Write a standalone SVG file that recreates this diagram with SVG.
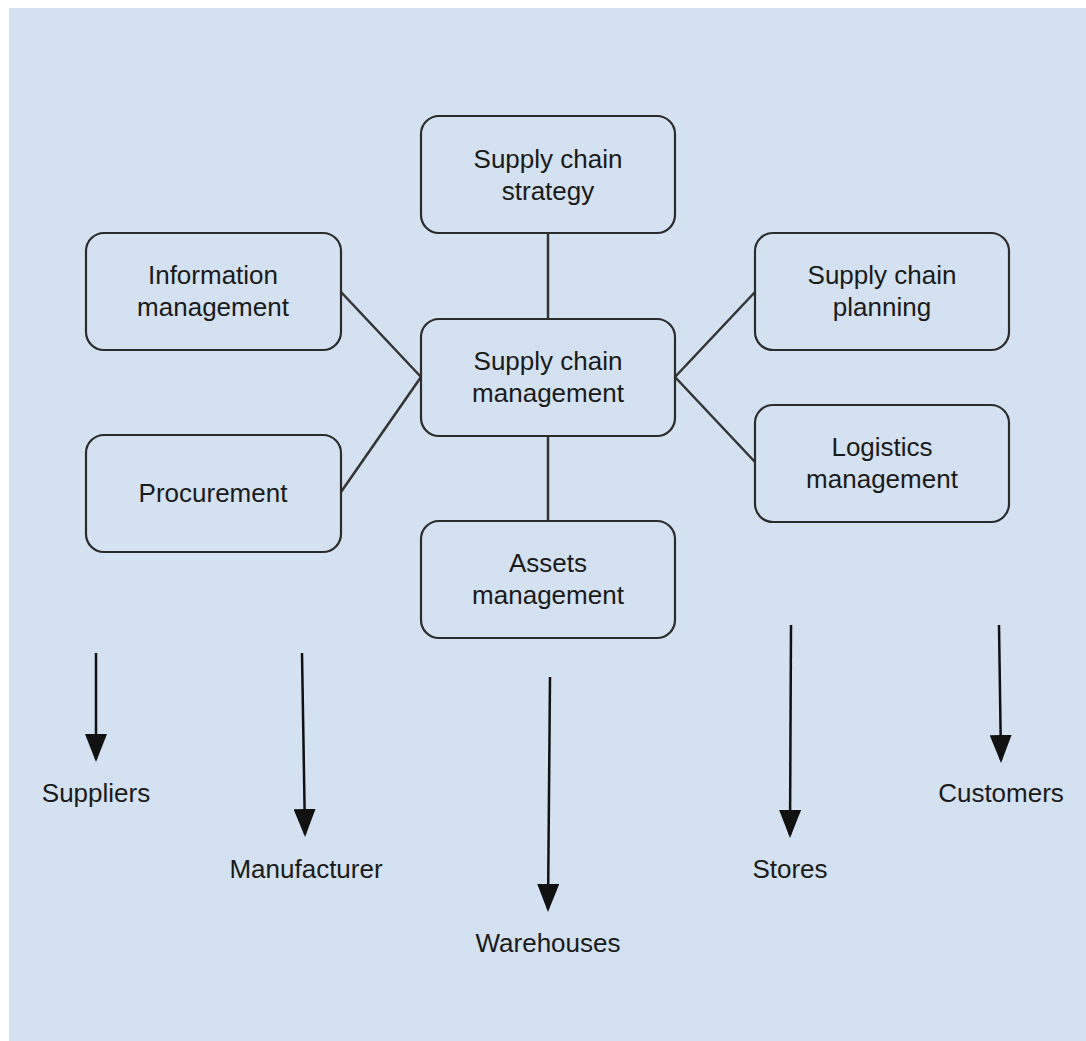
<svg xmlns="http://www.w3.org/2000/svg" width="1086" height="1041" viewBox="0 0 1086 1041">
  <defs>
    <style>
      .box { fill: #d4e1f0; stroke: #2b2b2b; stroke-width: 2.2; }
      .txt { font-family: "Liberation Sans", Arial, sans-serif; font-size: 26px; fill: #1a1a1a; text-anchor: middle; }
      .link { stroke: #333333; stroke-width: 2.5; fill: none; }
      .flow { stroke: #111111; stroke-width: 2.5; fill: none; marker-end: url(#head); }
    </style>
    <!-- solid block arrowhead, 28 long and 22 wide -->
    <marker id="head" viewBox="0 0 28 22" refX="25" refY="11" markerWidth="28" markerHeight="22" markerUnits="userSpaceOnUse" orient="auto">
      <path d="M0,0 L28,11 L0,22 Z" fill="#111111"/>
    </marker>
  </defs>

  <rect x="0" y="0" width="1086" height="1041" fill="#ffffff"/>
  <rect x="9" y="8" width="1077" height="1033" fill="#d4e1f0"/>

  <g id="connectors">
    <!-- links between the management boxes -->
    <line class="link" x1="548" y1="233" x2="548" y2="319"/>
    <line class="link" x1="548" y1="436" x2="548" y2="521"/>
    <line class="link" x1="341" y1="292" x2="421" y2="377"/>
    <line class="link" x1="341" y1="492" x2="421" y2="377"/>
    <line class="link" x1="675" y1="377" x2="755" y2="292"/>
    <line class="link" x1="675" y1="377" x2="755" y2="462"/>
    <!-- flow arrows towards the chain stages -->
    <path class="flow" d="M96,653 L96,759"/>
    <path class="flow" d="M302,653 L305,834"/>
    <path class="flow" d="M550,677 L548,909"/>
    <path class="flow" d="M791,625 L790,835"/>
    <path class="flow" d="M999,625 L1001,760"/>
  </g>

  <g id="strategy">
    <rect class="box" x="421" y="116" width="254" height="117" rx="18"/>
    <text class="txt" x="548" y="168">Supply chain</text>
    <text class="txt" x="548" y="200">strategy</text>
  </g>
  <g id="information">
    <rect class="box" x="86" y="233" width="255" height="117" rx="18"/>
    <text class="txt" x="213" y="284">Information</text>
    <text class="txt" x="213" y="316">management</text>
  </g>
  <g id="procurement">
    <rect class="box" x="86" y="435" width="255" height="117" rx="18"/>
    <text class="txt" x="213" y="502">Procurement</text>
  </g>
  <g id="scm">
    <rect class="box" x="421" y="319" width="254" height="117" rx="18"/>
    <text class="txt" x="548" y="370">Supply chain</text>
    <text class="txt" x="548" y="402">management</text>
  </g>
  <g id="assets">
    <rect class="box" x="421" y="521" width="254" height="117" rx="18"/>
    <text class="txt" x="548" y="572">Assets</text>
    <text class="txt" x="548" y="604">management</text>
  </g>
  <g id="planning">
    <rect class="box" x="755" y="233" width="254" height="117" rx="18"/>
    <text class="txt" x="882" y="284">Supply chain</text>
    <text class="txt" x="882" y="316">planning</text>
  </g>
  <g id="logistics">
    <rect class="box" x="755" y="405" width="254" height="117" rx="18"/>
    <text class="txt" x="882" y="456">Logistics</text>
    <text class="txt" x="882" y="488">management</text>
  </g>

  <g id="suppliers"><text class="txt" x="96" y="802">Suppliers</text></g>
  <g id="manufacturer"><text class="txt" x="306" y="878">Manufacturer</text></g>
  <g id="warehouses"><text class="txt" x="548" y="952">Warehouses</text></g>
  <g id="stores"><text class="txt" x="790" y="878">Stores</text></g>
  <g id="customers"><text class="txt" x="1001" y="802">Customers</text></g>
</svg>
